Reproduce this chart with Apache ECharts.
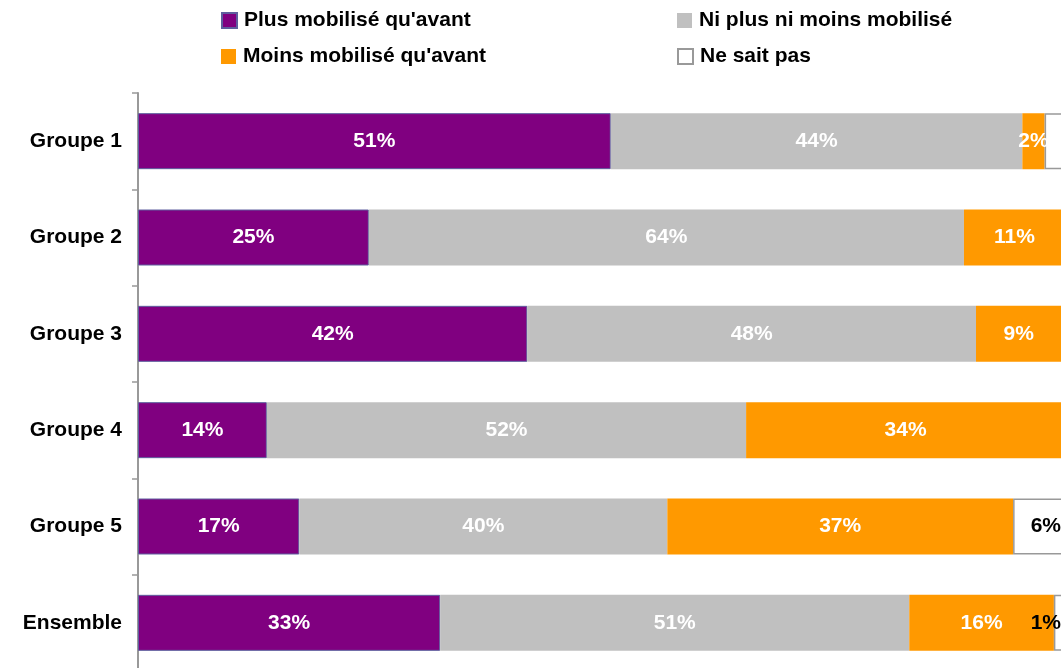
<!DOCTYPE html>
<html>
<head>
<meta charset="utf-8">
<script src="https://cdn.jsdelivr.net/npm/echarts@6/dist/echarts.min.js"></script>
<style>html,body{margin:0;padding:0;background:#fff;overflow:hidden}#c{width:1065px;height:671px}</style>
</head>
<body>
<div id="c"></div>
<script>
const categories = ['Groupe 1', 'Groupe 2', 'Groupe 3', 'Groupe 4', 'Groupe 5', 'Ensemble'];
const seriesNames = ["Plus mobilisé qu'avant", 'Ni plus ni moins mobilisé', "Moins mobilisé qu'avant", 'Ne sait pas'];
const plusMobilise = [51.0, 24.9, 42.0, 13.9, 17.4, 32.6];
const niPlusNiMoins = [44.4, 64.2, 48.4, 51.7, 39.7, 50.6];
const moinsMobilise = [2.4, 10.9, 9.2, 34.4, 37.3, 15.6];
const neSaitPas = [2.2, 0, 0.4, 0, 5.6, 1.2];
const hiddenLabel = [[3, 0]]; // series 3, Groupe 1: label outside visible area in original

const FONT = 'Liberation Sans, Arial, sans-serif';
const colors = ['#800080', '#C0C0C0', '#FF9900', '#FFFFFF'];
const styles = [
  {color: colors[0], borderColor: '#5E5E9E', borderWidth: 1},
  {color: colors[1]},
  {color: colors[2]},
  {color: colors[3], borderColor: '#999999', borderWidth: 1.5}
];
const values = [plusMobilise, niPlusNiMoins, moinsMobilise, neSaitPas];

const chart = echarts.init(document.getElementById('c'));

const legendPos = [[221, 10], [677, 10], [221, 46], [677, 46]];
const legends = seriesNames.map((n, i) => ({
  data: [n],
  left: legendPos[i][0], top: legendPos[i][1],
  padding: 0,
  icon: 'rect',
  itemWidth: 15, itemHeight: 15,
  selectedMode: false,
  textStyle: {fontFamily: FONT, fontWeight: 'bold', fontSize: 21, color: '#000', padding: [0, 0, 0, 2]}
}));

const series = seriesNames.map((n, si) => ({
  name: n,
  type: 'bar',
  stack: 'total',
  barWidth: 56,
  itemStyle: styles[si],
  label: {
    show: true,
    position: si === 3 ? 'insideRight' : 'inside',
    distance: si === 3 ? 4 : 5,
    color: si === 3 ? '#000' : '#fff',
    fontFamily: FONT, fontWeight: 'bold', fontSize: 21,
    formatter: p => {
      if (hiddenLabel.some(h => h[0] === si && h[1] === p.dataIndex)) return '';
      return p.value < 0.5 ? '' : Math.round(p.value) + '%';
    }
  },
  emphasis: {disabled: true},
  data: values[si]
}));

chart.setOption({
  animation: false,
  legend: legends,
  grid: {left: 138, top: 93, right: 0, bottom: 0, containLabel: false},
  xAxis: {type: 'value', min: 0, max: 100, show: false},
  yAxis: {
    type: 'category', data: categories, inverse: true,
    axisLine: {lineStyle: {color: '#999999', width: 2}},
    axisTick: {show: true, length: 6, lineStyle: {color: '#999999', width: 1.5}},
    axisLabel: {margin: 16, color: '#000', fontFamily: FONT, fontWeight: 'bold', fontSize: 21}
  },
  series: series
});
</script>
</body>
</html>
